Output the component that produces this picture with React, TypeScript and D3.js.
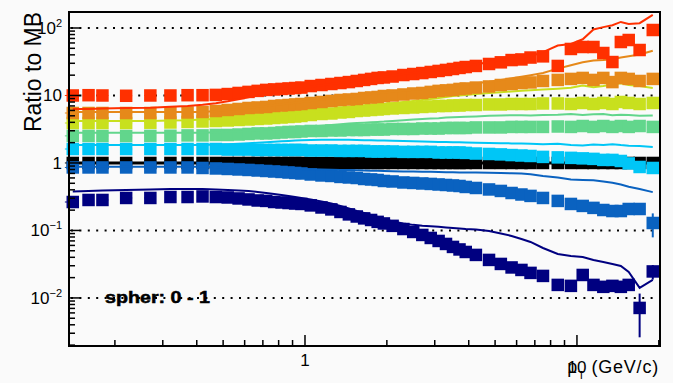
import React from "react";
import * as d3 from "d3";

const W = 673;
const H = 383;

// pT bin centres (GeV/c)
const pt = [0.14, 0.16, 0.18, 0.22, 0.27, 0.32, 0.37, 0.42, 0.47, 0.52, 0.57, 0.62, 0.67, 0.72, 0.77, 0.82, 0.87, 0.92, 0.97,
  1.05, 1.15, 1.25, 1.35, 1.45, 1.55, 1.65, 1.75, 1.85, 1.95, 2.1, 2.3, 2.5, 2.7, 2.9, 3.1, 3.3, 3.5, 3.7, 3.9,
  4.25, 4.75, 5.25, 5.75, 6.25, 6.75, 7.5, 8.5, 9.5, 10.5, 11.5, 12.5, 13.5, 14.5, 15.5, 17, 19];

// ratio to MB, marker series
const redPts = [10.0, 10.1, 10.0, 9.9, 10.0, 10.0, 10.1, 10.1, 10.2, 10.5, 10.9, 11.3, 11.7, 12.1, 12.3, 12.5, 12.7, 12.9, 13.1,
  13.8, 14.3, 14.8, 15.3, 15.8, 16.4, 17.0, 17.6, 18.2, 18.5, 19.1, 20.1, 20.8, 21.5, 22.3, 23.1, 23.9, 24.7, 25.6, 26.4,
  27.4, 29.3, 31.0, 33.5, 34.2, 36.5, 38.0, 27.4, 48.9, 52.3, 52.3, 42.6, 31.3, 62.0, 66.4, 47.2, 93.4];
const orangePts = [5.5, 5.5, 5.5, 5.5, 5.5, 5.5, 5.6, 5.7, 5.89, 6.1, 6.31, 6.53, 6.64, 6.76, 6.99, 7.11, 7.23, 7.36, 7.48,
  7.74, 8.01, 8.29, 8.58, 8.72, 8.88, 9.18, 9.34, 9.5, 9.83, 10.0, 10.35, 10.7, 10.9, 11.3, 11.7, 11.9, 12.1, 12.5, 12.7,
  13.1, 13.6, 14.3, 14.8, 15.3, 15.6, 16.4, 17.0, 17.6, 18.2, 17.0, 18.2, 15.8, 18.2, 17.6, 16.4, 17.6];
const yellowPts = [3.91, 3.91, 3.91, 3.91, 3.95, 3.98, 4.05, 4.12, 4.19, 4.26, 4.34, 4.41, 4.49, 4.56, 4.64, 4.72, 4.8, 4.88, 4.97,
  5.14, 5.32, 5.41, 5.6, 5.7, 5.89, 5.99, 6.1, 6.2, 6.31, 6.42, 6.53, 6.64, 6.76, 6.87, 6.99, 6.99, 7.11, 7.11, 7.23,
  7.23, 7.36, 7.36, 7.48, 7.48, 7.48, 7.61, 7.61, 7.48, 7.74, 7.48, 7.74, 7.48, 8.01, 7.74, 7.48, 7.74];
const greenPts = [2.52, 2.52, 2.51, 2.51, 2.52, 2.53, 2.56, 2.56, 2.6, 2.6, 2.64, 2.69, 2.74, 2.74, 2.78, 2.83, 2.88, 2.88, 2.93,
  2.98, 2.98, 3.03, 3.03, 3.08, 3.08, 3.08, 3.13, 3.13, 3.13, 3.19, 3.19, 3.19, 3.24, 3.24, 3.24, 3.3, 3.3, 3.3, 3.3,
  3.36, 3.36, 3.36, 3.42, 3.42, 3.42, 3.42, 3.47, 3.42, 3.53, 3.42, 3.53, 3.42, 3.53, 3.42, 3.53, 3.42];
const cyanPts = [1.61, 1.61, 1.61, 1.61, 1.61, 1.61, 1.61, 1.61, 1.61, 1.58, 1.58, 1.58, 1.56, 1.56, 1.56, 1.56, 1.56, 1.56, 1.56,
  1.53, 1.53, 1.53, 1.51, 1.51, 1.51, 1.51, 1.48, 1.48, 1.48, 1.48, 1.46, 1.46, 1.46, 1.46, 1.43, 1.43, 1.43, 1.43, 1.41,
  1.38, 1.36, 1.34, 1.31, 1.29, 1.27, 1.23, 1.21, 1.19, 1.17, 1.15, 1.11, 1.11, 1.07, 0.985, 0.872, 0.843];
const mbPts = pt.map(() => 1);
const bluePts = [0.858, 0.858, 0.858, 0.858, 0.858, 0.858, 0.858, 0.843, 0.829, 0.815, 0.801, 0.788, 0.774, 0.761, 0.748, 0.736, 0.723, 0.711, 0.699,
  0.675, 0.653, 0.642, 0.621, 0.61, 0.599, 0.579, 0.57, 0.56, 0.541, 0.532, 0.514, 0.506, 0.497, 0.489, 0.48, 0.472, 0.464, 0.456, 0.441,
  0.426, 0.405, 0.385, 0.359, 0.341, 0.325, 0.303, 0.274, 0.247, 0.231, 0.216, 0.201, 0.194, 0.194, 0.208, 0.208, 0.129];
const navyPts = [0.264, 0.283, 0.283, 0.303, 0.303, 0.313, 0.313, 0.319, 0.313, 0.308, 0.298, 0.288, 0.278, 0.274, 0.264, 0.26, 0.255, 0.251, 0.247,
  0.235, 0.219, 0.205, 0.188, 0.173, 0.161, 0.151, 0.143, 0.134, 0.127, 0.117, 0.105, 0.095, 0.0858, 0.0774, 0.0699, 0.0631, 0.057, 0.0523, 0.048,
  0.0434, 0.0366, 0.0319, 0.0283, 0.026, 0.0235, 0.0212, 0.0156, 0.0151, 0.0219, 0.0156, 0.0146, 0.0151, 0.0146, 0.0156, 0.00711, 0.0247];

// statistical errors (only the visible ones, high pT)
const blueErr = [0, 0, 0, 0, 0, 0, 0, 0, 0, 0, 0, 0, 0, 0, 0, 0, 0, 0, 0, 0, 0, 0, 0, 0, 0, 0, 0, 0, 0, 0, 0, 0, 0, 0, 0, 0, 0, 0, 0,
  0, 0, 0, 0, 0, 0, 0, 0.01, 0.01, 0.012, 0.012, 0.014, 0.015, 0.016, 0.018, 0.02, 0.05];
const navyErr = [0, 0, 0, 0, 0, 0, 0, 0, 0, 0, 0, 0, 0, 0, 0, 0, 0, 0, 0, 0, 0, 0, 0, 0, 0, 0, 0, 0, 0, 0, 0, 0, 0, 0, 0, 0, 0, 0, 0,
  0, 0, 0, 0, 0, 0, 0.001, 0.0015, 0.0015, 0.002, 0.002, 0.002, 0.0022, 0.0022, 0.0025, 0.0045, 0.006];

// ratio to MB, line series
const redLine = [6.3, 6.3, 6.4, 6.5, 6.6, 6.8, 7.0, 7.3, 7.7, 8.2, 8.8, 9.4, 10.0, 10.6, 11.1, 11.6, 12.0, 12.4, 12.8,
  13.5, 14.2, 14.8, 15.4, 16.0, 16.6, 17.2, 17.8, 18.4, 19.0, 19.8, 20.8, 21.6, 22.5, 23.3, 24.2, 25.0, 25.9, 26.8, 27.6,
  29.0, 31.0, 33.5, 35.0, 37.5, 38.0, 44.0, 55.0, 58.0, 68.0, 95.0, 103.0, 110.0, 123.0, 115.0, 118.0, 156.0];
const orangeLine = [5.7, 5.7, 5.7, 5.7, 5.7, 5.7, 5.7, 5.7, 5.9, 6.1, 6.3, 6.6, 6.8, 7.0, 7.2, 7.4, 7.6, 7.8, 8.0,
  8.3, 8.7, 9.0, 9.3, 9.6, 9.9, 10.2, 10.5, 10.8, 11.1, 11.4, 11.8, 12.2, 12.5, 12.8, 13.1, 13.4, 13.8, 14.2, 14.6,
  15.2, 16.0, 17.0, 18.0, 19.0, 20.0, 21.5, 25.0, 28.0, 31.0, 33.0, 33.5, 34.5, 36.5, 38.0, 40.5, 46.0];
const yellowLine = [4.2, 4.2, 4.2, 4.2, 4.2, 4.25, 4.3, 4.4, 4.5, 4.6, 4.7, 4.8, 4.9, 5.0, 5.1, 5.2, 5.3, 5.4, 5.5,
  5.7, 5.9, 6.1, 6.3, 6.5, 6.7, 6.9, 7.1, 7.3, 7.5, 7.7, 8.0, 8.3, 8.6, 8.9, 9.2, 9.5, 9.8, 10.0, 10.2,
  10.5, 10.9, 11.2, 11.5, 11.8, 12.0, 12.3, 12.6, 13.0, 14.0, 13.2, 13.8, 14.5, 15.2, 14.3, 13.8, 12.9];
const greenLine = [2.8, 2.8, 2.8, 2.8, 2.8, 2.8, 2.8, 2.8, 2.85, 2.9, 2.95, 3.0, 3.05, 3.1, 3.15, 3.2, 3.25, 3.3, 3.35,
  3.45, 3.55, 3.65, 3.75, 3.85, 3.9, 3.95, 4.0, 4.05, 4.1, 4.2, 4.3, 4.4, 4.5, 4.55, 4.6, 4.7, 4.75, 4.8, 4.85,
  4.9, 5.0, 5.05, 5.1, 5.1, 5.05, 5.15, 5.2, 5.3, 5.15, 5.25, 5.3, 5.1, 5.2, 5.15, 5.0, 5.05];
const cyanLine = [1.85, 1.85, 1.85, 1.85, 1.85, 1.85, 1.85, 1.85, 1.87, 1.9, 1.93, 1.96, 2.0, 2.03, 2.06, 2.09, 2.12, 2.15, 2.17,
  2.19, 2.2, 2.2, 2.2, 2.2, 2.19, 2.18, 2.17, 2.16, 2.15, 2.14, 2.12, 2.1, 2.08, 2.06, 2.05, 2.04, 2.03, 2.02, 2.01,
  2.0, 1.98, 1.96, 1.95, 1.94, 1.92, 1.9, 1.93, 1.85, 1.82, 1.88, 1.85, 1.9, 1.84, 1.8, 1.78, 1.73];
const blueLine = [0.88, 0.88, 0.88, 0.88, 0.88, 0.88, 0.88, 0.88, 0.87, 0.86, 0.855, 0.85, 0.845, 0.84, 0.835, 0.83, 0.825, 0.82, 0.815,
  0.81, 0.8, 0.795, 0.79, 0.785, 0.78, 0.775, 0.77, 0.765, 0.76, 0.755, 0.75, 0.745, 0.74, 0.74, 0.735, 0.73, 0.73, 0.725, 0.72,
  0.72, 0.715, 0.71, 0.705, 0.7, 0.68, 0.64, 0.61, 0.57, 0.56, 0.555, 0.53, 0.51, 0.48, 0.445, 0.41, 0.37];
const navyLine = [0.378, 0.385, 0.391, 0.398, 0.405, 0.412, 0.412, 0.412, 0.405, 0.398, 0.391, 0.385, 0.372, 0.359, 0.347, 0.336, 0.325, 0.313, 0.303,
  0.288, 0.269, 0.251, 0.231, 0.212, 0.194, 0.182, 0.17, 0.158, 0.148, 0.136, 0.127, 0.121, 0.117, 0.115, 0.113, 0.111, 0.109, 0.107, 0.105,
  0.103, 0.0983, 0.0903, 0.0829, 0.0748, 0.0675, 0.055, 0.0449, 0.0419, 0.0405, 0.0366, 0.0341, 0.0319, 0.0298, 0.0243, 0.0141, 0.0185];

const yTickLabels = [
  { v: 100, base: "10", sup: "2" },
  { v: 10, base: "10", sup: "" },
  { v: 1, base: "1", sup: "" },
  { v: 0.1, base: "10", sup: "\u22121" },
  { v: 0.01, base: "10", sup: "\u22122" },
];
const xTickLabels = [{ v: 1, t: "1" }, { v: 10, t: "10" }];
const classLabel = "spher: 0 - 1";

const series = [
  { name: "MB", color: "#000000", pts: mbPts, line: mbPts, err: null as number[] | null, lw: 3 },
  { name: "c0", color: "#000080", pts: navyPts, line: navyLine, err: navyErr, lw: 2 },
  { name: "c1", color: "#0a62c0", pts: bluePts, line: blueLine, err: blueErr, lw: 2 },
  { name: "c2", color: "#00c6f6", pts: cyanPts, line: cyanLine, err: null, lw: 2 },
  { name: "c3", color: "#62d68c", pts: greenPts, line: greenLine, err: null, lw: 2 },
  { name: "c4", color: "#c8e01e", pts: yellowPts, line: yellowLine, err: null, lw: 2 },
  { name: "c5", color: "#e6891a", pts: orangePts, line: orangeLine, err: null, lw: 2 },
  { name: "c6", color: "#ff3000", pts: redPts, line: redLine, err: null, lw: 2 },
];

const L = 69, R = 660, T = 12, B = 346;
const MS = 12.5;

export default function App() {
  const x = d3.scaleLog().domain([0.1356, 20.2]).range([L, R]);
  const y = d3.scaleLog().domain([0.00194, 172.6]).range([B, T]);

  // bin edges (geometric midpoints)
  const edges = pt.map((p, i) => {
    const lo = i === 0 ? p * p / pt[1] : Math.sqrt(p * pt[i - 1]);
    const hi = i === pt.length - 1 ? p * p / pt[i - 1] : Math.sqrt(p * pt[i + 1]);
    return [Math.sqrt(lo * p), Math.sqrt(hi * p)];
  });

  const line = d3.line<number>().x((_, i) => x(pt[i])).y((v) => y(v));

  const decadesY = [0.01, 0.1, 1, 10, 100];
  const minorY: number[] = [];
  [0.001, 0.01, 0.1, 1, 10, 100].forEach((d) => {
    for (let k = 2; k <= 9; k++) {
      const v = d * k;
      if (v > 0.00194 && v < 172.6) minorY.push(v);
    }
  });
  const minorX: number[] = [];
  [0.1, 1, 10].forEach((d) => {
    for (let k = 2; k <= 9; k++) {
      const v = d * k;
      if (v > 0.1356 && v < 20.2) minorX.push(v);
    }
  });

  const font = "'Liberation Sans', Arial, Helvetica, sans-serif";

  return (
    <svg width={W} height={H} style={{ position: "absolute", left: 0, top: 0, background: "#fafafa" }}>
      <rect x={0} y={0} width={W} height={H} fill="#fafafa" />
      {/* class label (under grid) */}
      <text x={105} y={303} fontFamily={font} fontWeight="bold" fontSize={16.5} textLength={105} lengthAdjust="spacingAndGlyphs" fill="#000" stroke="#000" strokeWidth={0.5}>
        {classLabel}
      </text>
      {/* dotted grid at decades */}
      {decadesY.map((v) => (
        <line key={"g" + v} x1={L + 2} x2={R - 1} y1={y(v)} y2={y(v)} stroke="#000" strokeWidth={2} strokeDasharray="2 6.4" />
      ))}
      {/* data */}
      {series.map((s) => (
        <g key={s.name}>
          {s.pts.map((v, i) => (
            <line key={"h" + i} x1={x(edges[i][0])} x2={x(edges[i][1])} y1={y(v)} y2={y(v)} stroke={s.color} strokeWidth={1} />
          ))}
          {s.err && s.pts.map((v, i) =>
            s.err![i] > 0 ? (
              <line key={"e" + i} x1={x(pt[i])} x2={x(pt[i])} y1={y(v + s.err![i])} y2={y(Math.max(v - s.err![i], 0.0021))} stroke={s.color} strokeWidth={2} />
            ) : null
          )}
          {s.pts.map((v, i) => (
            <rect key={"m" + i} x={x(pt[i]) - MS / 2} y={y(v) - MS / 2} width={MS} height={MS} fill={s.color} />
          ))}
          <path d={line(s.line) || ""} fill="none" stroke={s.color} strokeWidth={s.lw} />
        </g>
      ))}
      {/* frame */}
      <rect x={L} y={T} width={R - L} height={B - T} fill="none" stroke="#000" strokeWidth={2} />
      {/* y ticks */}
      {decadesY.map((v) => (
        <line key={"yt" + v} x1={L} x2={L + 11} y1={y(v)} y2={y(v)} stroke="#000" strokeWidth={1.5} />
      ))}
      {minorY.map((v) => (
        <line key={"ym" + v} x1={L} x2={L + 6} y1={y(v)} y2={y(v)} stroke="#000" strokeWidth={1.5} />
      ))}
      {/* x ticks */}
      {xTickLabels.map((t) => (
        <line key={"xt" + t.v} x1={x(t.v)} x2={x(t.v)} y1={B} y2={B - 11} stroke="#000" strokeWidth={1.5} />
      ))}
      {minorX.map((v) => (
        <line key={"xm" + v} x1={x(v)} x2={x(v)} y1={B} y2={B - 6} stroke="#000" strokeWidth={1.5} />
      ))}
      {/* y tick labels */}
      {yTickLabels.map((t) => (
        <text key={"yl" + t.v} x={62} y={y(t.v) + 6} textAnchor="end" fontFamily={font} fontSize={17} fill="#000">
          {t.base}
          {t.sup && (
            <tspan dy={-7} fontSize={11}>
              {t.sup}
            </tspan>
          )}
        </text>
      ))}
      {/* x tick labels */}
      {xTickLabels.map((t) => (
        <text key={"xl" + t.v} x={x(t.v)} y={t.v === 1 ? 366 : 373} textAnchor="middle" fontFamily={font} fontSize={17} fill="#000">
          {t.t}
        </text>
      ))}
      {/* x title */}
      <text x={659} y={373} textAnchor="end" fontFamily={font} fontSize={18} fill="#000" letterSpacing={0.8}>
        p<tspan dy={6} fontSize={11}>T</tspan>
        <tspan dy={-6}> (GeV/c)</tspan>
      </text>
      {/* y title */}
      <text transform="translate(41,12) rotate(-90)" textAnchor="end" fontFamily={font} fontSize={23} fill="#000" textLength={120} lengthAdjust="spacingAndGlyphs">
        Ratio to MB
      </text>
    </svg>
  );
}
